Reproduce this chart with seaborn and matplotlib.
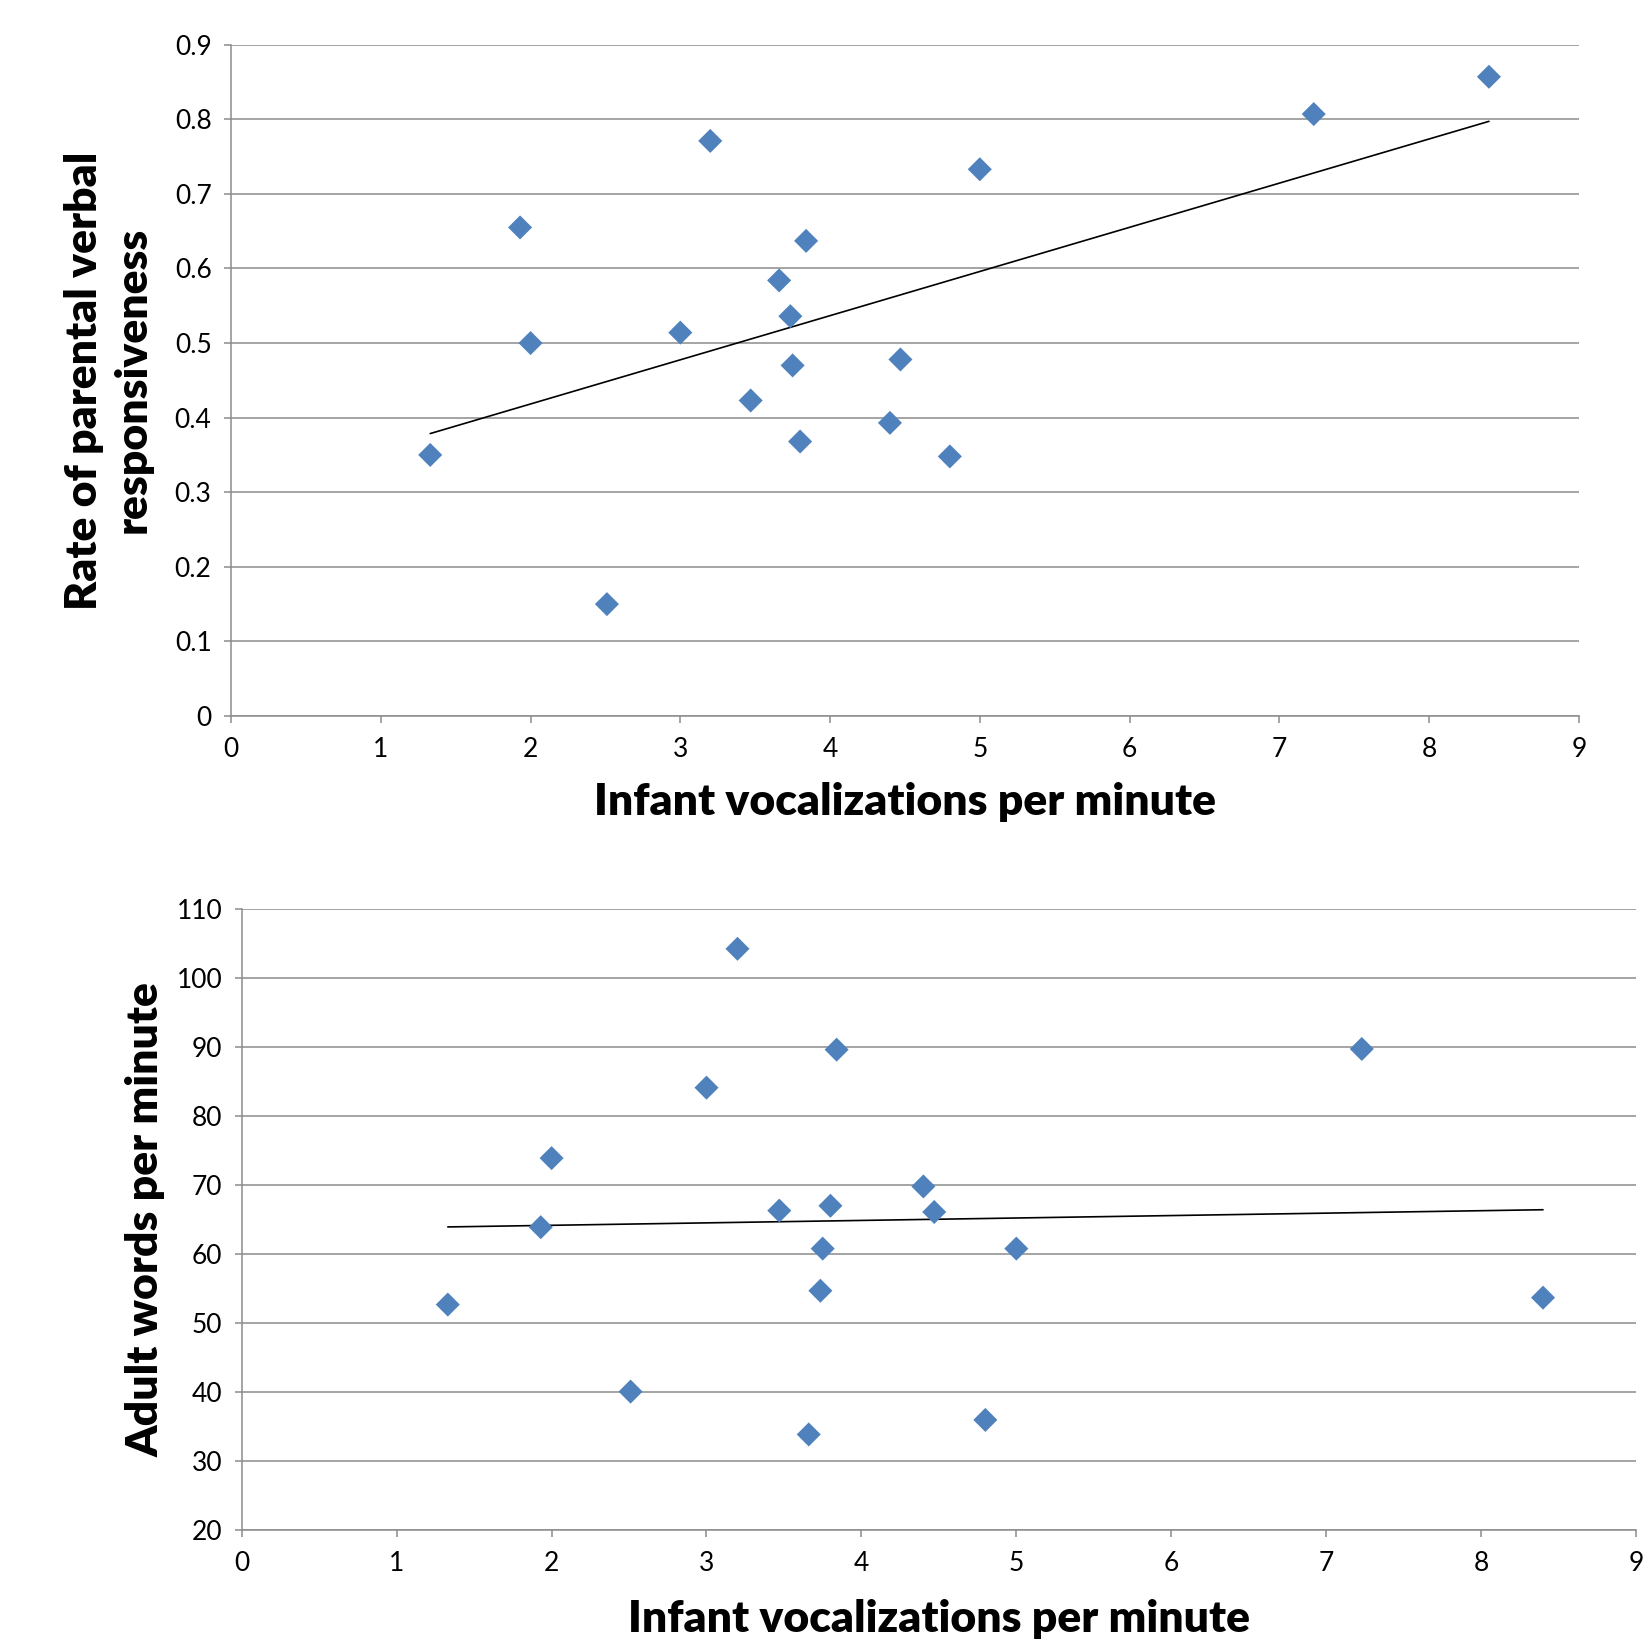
import numpy as np
import pandas as pd
import matplotlib
matplotlib.use("Agg")
import matplotlib.pyplot as plt
import seaborn as sns

# ---- data ----
infant_vocalizations = [1.33, 1.93, 2.00, 2.51, 3.00, 3.20, 3.47, 3.66, 3.735,
                        3.75, 3.80, 3.84, 4.40, 4.47, 4.80, 5.00, 7.23, 8.40]
parental_responsiveness = [0.350, 0.655, 0.500, 0.150, 0.514, 0.771, 0.423, 0.584, 0.536,
                           0.470, 0.368, 0.637, 0.393, 0.478, 0.348, 0.733, 0.807, 0.857]
adult_words = [52.7, 63.9, 73.9, 40.1, 84.1, 104.2, 66.3, 33.9, 54.7,
               60.8, 67.0, 89.6, 69.8, 66.1, 36.0, 60.8, 89.7, 53.7]

x_ticks = list(range(0, 10))
y_ticks_top = [0, 0.1, 0.2, 0.3, 0.4, 0.5, 0.6, 0.7, 0.8, 0.9]
y_ticks_bottom = [20, 30, 40, 50, 60, 70, 80, 90, 100, 110]

df = pd.DataFrame({"infant": infant_vocalizations,
                   "resp": parental_responsiveness,
                   "words": adult_words})

sns.set_theme(style="white")
plt.rcParams["font.family"] = ["Lato", "DejaVu Sans"]
plt.rcParams["text.color"] = "black"
plt.rcParams["axes.labelcolor"] = "black"

MARKER_COLOR = "#4F81BD"
GRID_COLOR = "#8C8C8C"
LABEL_SIZE = 32
TICK_SIZE = 19

fig = plt.figure(figsize=(16.48, 16.43), dpi=100)
ax1 = fig.add_axes([0.1402, 0.5642, 0.958 - 0.1402, 0.9728 - 0.5642])
ax2 = fig.add_axes([0.1467, 0.0685, 0.9927 - 0.1467, 0.4469 - 0.0685])


def style(ax, yticks, ylim, ylabel_fmt):
    ax.set_xlim(0, 9)
    ax.set_ylim(*ylim)
    ax.set_xticks(x_ticks)
    ax.set_yticks(yticks)
    ax.set_xticklabels([str(t) for t in x_ticks])
    ax.set_yticklabels([ylabel_fmt(t) for t in yticks])
    ax.grid(False)
    for yv in yticks:
        ax.axhline(yv, color=GRID_COLOR, lw=1.1, zorder=0)
    for s in ["top", "right"]:
        ax.spines[s].set_visible(False)
    for s in ["left", "bottom"]:
        ax.spines[s].set_color(GRID_COLOR)
        ax.spines[s].set_linewidth(1.1)
    ax.tick_params(axis="both", which="major", direction="out", length=5,
                   width=1.1, color=GRID_COLOR, labelsize=TICK_SIZE, labelcolor="black")
    ax.tick_params(axis="x", pad=10, bottom=True)
    ax.tick_params(axis="y", pad=9, left=True)


def fmt_top(v):
    return "0" if v == 0 else f"{v:.1f}"


def fmt_bottom(v):
    return str(int(v))


scatter_style = {"s": 150, "color": MARKER_COLOR, "edgecolor": "none",
                 "alpha": 1.0, "zorder": 3}
line_style = {"color": "black", "lw": 1.2, "zorder": 2}

# ---- top chart ----
sns.regplot(data=df, x="infant", y="resp", ax=ax1, ci=None, marker="D",
            scatter_kws=scatter_style, line_kws=line_style)
style(ax1, y_ticks_top, (0, 0.9), fmt_top)
ax1.set_xlabel("Infant vocalizations per minute", fontsize=LABEL_SIZE,
               fontweight="heavy", color="black")
ax1.set_ylabel("Rate of parental verbal\nresponsiveness", fontsize=LABEL_SIZE,
               fontweight="heavy", linespacing=1.25, color="black")
ax1.xaxis.set_label_coords(0.5, -0.128)
ax1.xaxis.label.set_va("center")
ax1.yaxis.set_label_coords(-0.0912, 0.5)
ax1.yaxis.label.set_va("center")

# ---- bottom chart ----
sns.regplot(data=df, x="infant", y="words", ax=ax2, ci=None, marker="D",
            scatter_kws=scatter_style, line_kws=line_style)
style(ax2, y_ticks_bottom, (20, 110), fmt_bottom)
ax2.set_xlabel("Infant vocalizations per minute", fontsize=LABEL_SIZE,
               fontweight="heavy", color="black")
ax2.set_ylabel("Adult words per minute", fontsize=LABEL_SIZE,
               fontweight="heavy", color="black")
ax2.xaxis.set_label_coords(0.5, -0.1417)
ax2.xaxis.label.set_va("center")
ax2.yaxis.set_label_coords(-0.069, 0.5)
ax2.yaxis.label.set_va("center")

fig.savefig("out.png", dpi=100, facecolor="white")
